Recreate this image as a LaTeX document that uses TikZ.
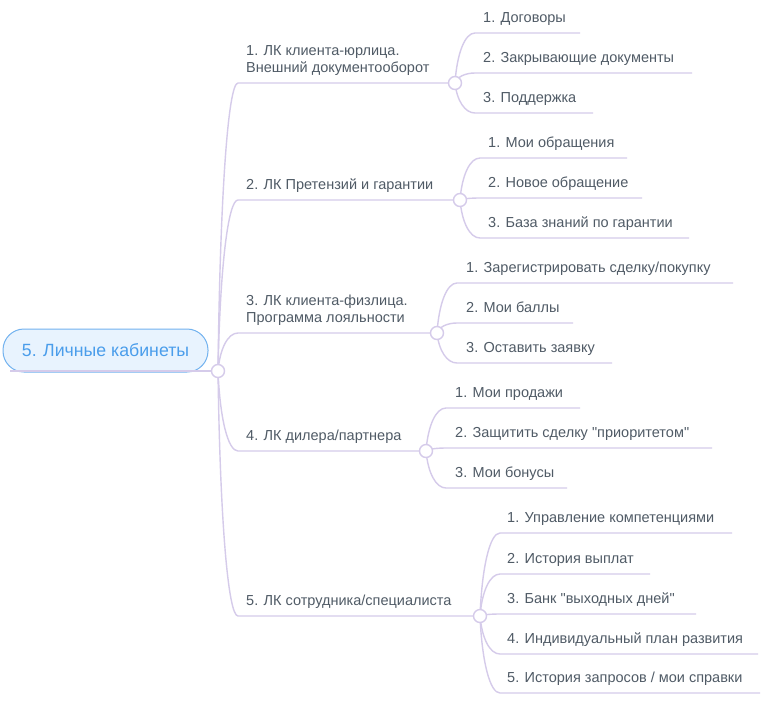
\documentclass[tikz,border=0pt]{standalone}
\usepackage{fontspec}
\setmainfont{Liberation Sans}
\usetikzlibrary{calc}
\definecolor{lnc}{HTML}{D5CBEA}
\definecolor{txc}{HTML}{505B66}
\definecolor{rootfill}{HTML}{E8F3FE}
\definecolor{rootdraw}{HTML}{72B2EF}
\definecolor{roottext}{HTML}{4A9DEB}
\newcommand\mmlink[3]{\draw[conn] let \p1=(#1), \p2=(#2) in (\p1) .. controls ({\x1+2pt},{\y1+0.6*(\y2-\y1)}) and ({\x2-10pt},\y2) .. (\p2) -- (#3);}
\begin{document}
\begin{tikzpicture}[x=1pt,y=-1pt,
  conn/.style={draw=lnc, line width=1.4pt},
  junc/.style={circle, draw=lnc, fill=white, line width=1.4pt, minimum size=13pt, inner sep=0pt},
  txt/.style={anchor=base west, inner sep=0pt, text=txc, font=\fontsize{14.5}{17}\selectfont, align=left},
  rootbox/.style={draw=rootdraw, fill=rootfill, line width=1pt, rounded corners=21pt, minimum width=205pt, minimum height=43pt, text=roottext, font=\fontsize{17.7}{22}\selectfont, inner sep=0pt}]
\fill[white] (0,0) rectangle (773,702);
\useasboundingbox (0,0) rectangle (773,702);
% root
\node[rootbox] (root) at (105.5,350.5) {5. Личные кабинеты};
\coordinate (j0) at (218,371);
\coordinate (rootul) at (10,371);
\draw[conn] (rootul) -- (j0);
% branch junctions and starts
\coordinate (j1) at (455,83);  \coordinate (b1s) at (238,83);
\coordinate (j2) at (460,200); \coordinate (b2s) at (238,200);
\coordinate (j3) at (437,333); \coordinate (b3s) at (238,333);
\coordinate (j4) at (426,451); \coordinate (b4s) at (238,451);
\coordinate (j5) at (480,616); \coordinate (b5s) at (238,616);
\mmlink{j0}{b1s}{j1}
\mmlink{j0}{b2s}{j2}
\mmlink{j0}{b3s}{j3}
\mmlink{j0}{b4s}{j4}
\mmlink{j0}{b5s}{j5}
\node[txt] (t1) at (246,72) {1. ЛК клиента-юрлица.\\Внешний документооборот};
\node[txt] (t2) at (246,189) {2. ЛК Претензий и гарантии};
\node[txt] (t3) at (246,322) {3. ЛК клиента-физлица.\\Программа лояльности};
\node[txt] (t4) at (246,440) {4. ЛК дилера/партнера};
\node[txt] (t5) at (246,605) {5. ЛК сотрудника/специалиста};
% branch 1 leaves
\coordinate (l11s) at (475,33);  \coordinate (l11e) at (580,33);
\coordinate (l12s) at (475,73);  \coordinate (l12e) at (692,73);
\coordinate (l13s) at (475,113); \coordinate (l13e) at (593,113);
\mmlink{j1}{l11s}{l11e}
\mmlink{j1}{l12s}{l12e}
\mmlink{j1}{l13s}{l13e}
\node[txt] (n11) at (483,22) {1. Договоры};
\node[txt] (n12) at (483,62) {2. Закрывающие документы};
\node[txt] (n13) at (483,102) {3. Поддержка};
% branch 2 leaves
\coordinate (l21s) at (480,158); \coordinate (l21e) at (627,158);
\coordinate (l22s) at (480,198); \coordinate (l22e) at (642,198);
\coordinate (l23s) at (480,238); \coordinate (l23e) at (689,238);
\mmlink{j2}{l21s}{l21e}
\mmlink{j2}{l22s}{l22e}
\mmlink{j2}{l23s}{l23e}
\node[txt] (n21) at (488,147) {1. Мои обращения};
\node[txt] (n22) at (488,187) {2. Новое обращение};
\node[txt] (n23) at (488,227) {3. База знаний по гарантии};
% branch 3 leaves
\coordinate (l31s) at (457,283); \coordinate (l31e) at (733,283);
\coordinate (l32s) at (457,323); \coordinate (l32e) at (573,323);
\coordinate (l33s) at (457,363); \coordinate (l33e) at (612,363);
\mmlink{j3}{l31s}{l31e}
\mmlink{j3}{l32s}{l32e}
\mmlink{j3}{l33s}{l33e}
\node[txt] (n31) at (466,272) {1. Зарегистрировать сделку/покупку};
\node[txt] (n32) at (466,312) {2. Мои баллы};
\node[txt] (n33) at (466,352) {3. Оставить заявку};
% branch 4 leaves
\coordinate (l41s) at (446,408); \coordinate (l41e) at (580,408);
\coordinate (l42s) at (446,448); \coordinate (l42e) at (712,448);
\coordinate (l43s) at (446,488); \coordinate (l43e) at (567,488);
\mmlink{j4}{l41s}{l41e}
\mmlink{j4}{l42s}{l42e}
\mmlink{j4}{l43s}{l43e}
\node[txt] (n41) at (455,397) {1. Мои продажи};
\node[txt] (n42) at (455,437) {2. Защитить сделку \textquotedbl приоритетом\textquotedbl};
\node[txt] (n43) at (455,477) {3. Мои бонусы};
% branch 5 leaves
\coordinate (l51s) at (500,533); \coordinate (l51e) at (732,533);
\coordinate (l52s) at (500,574); \coordinate (l52e) at (650,574);
\coordinate (l53s) at (500,614); \coordinate (l53e) at (696,614);
\coordinate (l54s) at (500,654); \coordinate (l54e) at (758,654);
\coordinate (l55s) at (500,693); \coordinate (l55e) at (760,693);
\mmlink{j5}{l51s}{l51e}
\mmlink{j5}{l52s}{l52e}
\mmlink{j5}{l53s}{l53e}
\mmlink{j5}{l54s}{l54e}
\mmlink{j5}{l55s}{l55e}
\node[txt] (n51) at (507,522) {1. Управление компетенциями};
\node[txt] (n52) at (507,563) {2. История выплат};
\node[txt] (n53) at (507,603) {3. Банк \textquotedbl выходных дней\textquotedbl};
\node[txt] (n54) at (507,643) {4. Индивидуальный план развития};
\node[txt] (n55) at (507,682) {5. История запросов / мои справки};
% junction circles
\node[junc] (c0) at (j0) {};
\node[junc] (c1) at (j1) {};
\node[junc] (c2) at (j2) {};
\node[junc] (c3) at (j3) {};
\node[junc] (c4) at (j4) {};
\node[junc] (c5) at (j5) {};
\end{tikzpicture}
\end{document}
